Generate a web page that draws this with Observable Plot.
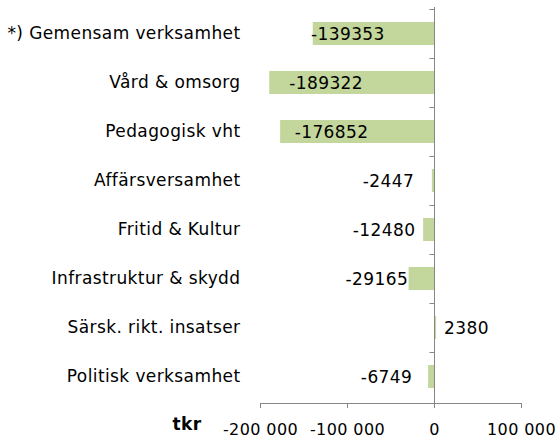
<!DOCTYPE html>
<html>
<head>
<meta charset="utf-8">
<script src="https://cdn.jsdelivr.net/npm/d3@7"></script>
<script src="https://cdn.jsdelivr.net/npm/@observablehq/plot@0.6"></script>
<style>
  html, body { margin: 0; padding: 0; background: white; }
</style>
</head>
<body>
<div id="chart"></div>
<script>
const categories = ["*) Gemensam verksamhet", "Vård & omsorg", "Pedagogisk vht", "Affärsversamhet", "Fritid & Kultur", "Infrastruktur & skydd", "Särsk. rikt. insatser", "Politisk verksamhet"];
const values = [-139353, -189322, -176852, -2447, -12480, -29165, 2380, -6749];
const xTicks = [-200000, -100000, 0, 100000];
const xTickLabels = ["-200 000", "-100 000", "0", "100 000"];
const axisTitle = "tkr";

const data = categories.map((c, i) => ({category: c, value: values[i]}));
const big = data.filter(d => d.value < -100000);
const smallNeg = data.filter(d => d.value < 0 && d.value >= -100000);
const pos = data.filter(d => d.value >= 0);

const gray = "#868686";

const yTicksMark = (index, scales, vals, dims) => {
  const g = d3.create("svg:g");
  const x0 = Math.round(scales.x(0)) + 0.5;
  const ys = categories.map(c => scales.y(c)).concat([dims.height - dims.marginBottom]);
  g.selectAll("line").data(ys).join("line")
    .attr("x1", x0 - 5).attr("x2", x0)
    .attr("y1", d => Math.round(d) + 0.5).attr("y2", d => Math.round(d) + 0.5)
    .attr("stroke", gray);
  return g.node();
};

const numStyle = {fontSize: 17, fill: "black", dy: 1, letterSpacing: "0.9px"};

const chart = Plot.plot({
  width: 559,
  height: 439,
  marginLeft: 260,
  marginRight: 38,
  marginTop: 7,
  marginBottom: 36,
  style: {fontFamily: "'DejaVu Sans', sans-serif", fontSize: "17px", background: "white", letterSpacing: "0.4px", color: "black"},
  x: {domain: [-200000, 100000]},
  y: {domain: categories, padding: 0},
  marks: [
    Plot.barX(data, {x: "value", y: "category", fill: "#c3d69b", insetTop: 13, insetBottom: 13}),
    Plot.ruleX([0], {stroke: gray}),
    Plot.frame({anchor: "bottom", stroke: gray}),
    yTicksMark,
    Plot.axisX({ticks: xTicks, tickFormat: (d) => xTickLabels[xTicks.indexOf(d)], tickSize: 5, tickPadding: 15, stroke: gray, fill: "black", fontSize: 16, label: null}),
    Plot.axisY({tickSize: 0, tickPadding: 20, label: null, fill: "black"}),
    Plot.text([axisTitle], {frameAnchor: "bottom-left", dx: -88, dy: 26, fontWeight: "bold", fontSize: 17, fill: "black", letterSpacing: "1px"}),
    Plot.text(big, {x: d => d.value / 2, y: "category", text: d => String(d.value), textAnchor: "middle", dx: -26, ...numStyle}),
    Plot.text(smallNeg, {x: d => d.value / 2, y: "category", text: d => String(d.value), textAnchor: "middle", dx: -45, ...numStyle}),
    Plot.text(pos, {x: d => d.value / 2, y: "category", text: d => String(d.value), textAnchor: "middle", dx: 31, ...numStyle})
  ]
});
document.getElementById("chart").appendChild(chart);
</script>
</body>
</html>
